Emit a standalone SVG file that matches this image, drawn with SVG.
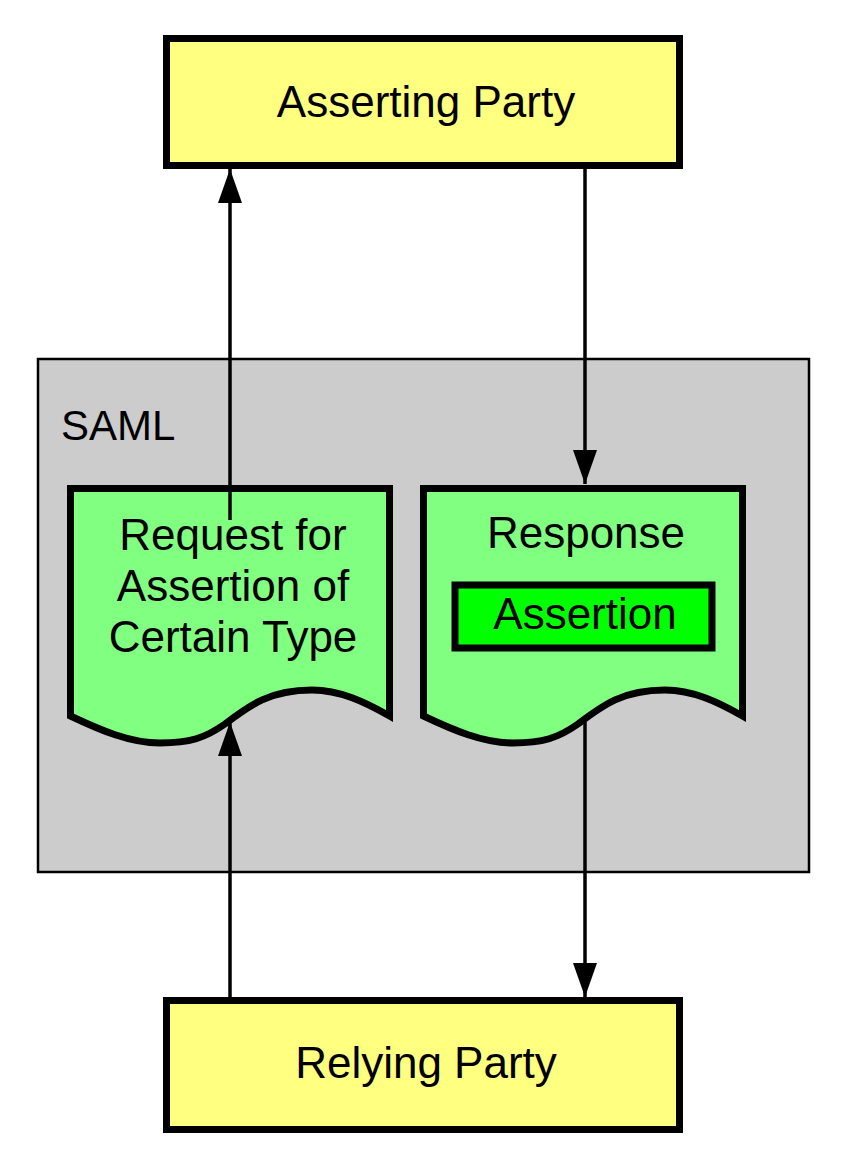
<svg xmlns="http://www.w3.org/2000/svg" width="846" height="1167" viewBox="0 0 846 1167">
<defs>
<style>
.lbl{font-family:"Liberation Sans",Arial,sans-serif;font-size:44px;fill:#000;text-anchor:middle}
.party{fill:#ffff80;stroke:#000;stroke-width:7}
.doc{fill:#80ff80;stroke:#000;stroke-width:7;stroke-linejoin:miter}
.conn{fill:none;stroke:#000;stroke-width:3.5}
</style>
<marker id="arr" markerUnits="userSpaceOnUse" markerWidth="34" markerHeight="26" refX="34" refY="13" orient="auto">
<path d="M0,1 L34,13 L0,25 Z" fill="#000"/>
</marker>
</defs>
<rect width="846" height="1167" fill="#fff"/>
<g id="saml">
<rect x="38" y="359" width="771" height="513" fill="#cccccc" stroke="#000" stroke-width="2.5"/>
<text x="61" y="440" class="lbl" style="text-anchor:start;font-size:42px">SAML</text>
</g>
<g id="asserting-party">
<rect class="party" x="166.5" y="38.5" width="513" height="127"/>
<text class="lbl" x="426" y="117">Asserting Party</text>
</g>
<g id="relying-party">
<rect class="party" x="166.5" y="1000.5" width="513" height="129"/>
<text class="lbl" x="426" y="1078">Relying Party</text>
</g>
<g id="request">
<path class="doc" d="M70.5,488.5 H389.5 V716 C365,702 340,690 312,690 C270,690 250,705 225,724 C205,738 190,743 160,743 C130,743 100,730 70.5,716 Z"/>
<text class="lbl" x="233" y="550">Request for</text>
<text class="lbl" x="233" y="601">Assertion of</text>
<text class="lbl" x="233" y="652">Certain Type</text>
</g>
<g id="response">
<path class="doc" d="M423.5,488.5 H742.5 V716 C718,702 693,690 665,690 C623,690 603,705 578,724 C558,738 543,743 513,743 C483,743 453,730 423.5,716 Z"/>
<text class="lbl" x="586" y="548">Response</text>
</g>
<g id="assertion">
<rect x="455" y="585" width="257" height="63" fill="#00ff00" stroke="#000" stroke-width="7"/>
<text class="lbl" x="585" y="629">Assertion</text>
</g>
<g id="connectors">
<line class="conn" x1="230" y1="520" x2="230" y2="169" marker-end="url(#arr)"/>
<line class="conn" x1="585" y1="169" x2="585" y2="484" marker-end="url(#arr)"/>
<line class="conn" x1="585" y1="722" x2="585" y2="997" marker-end="url(#arr)"/>
<line class="conn" x1="230" y1="997" x2="230" y2="722" marker-end="url(#arr)"/>
</g>
</svg>
